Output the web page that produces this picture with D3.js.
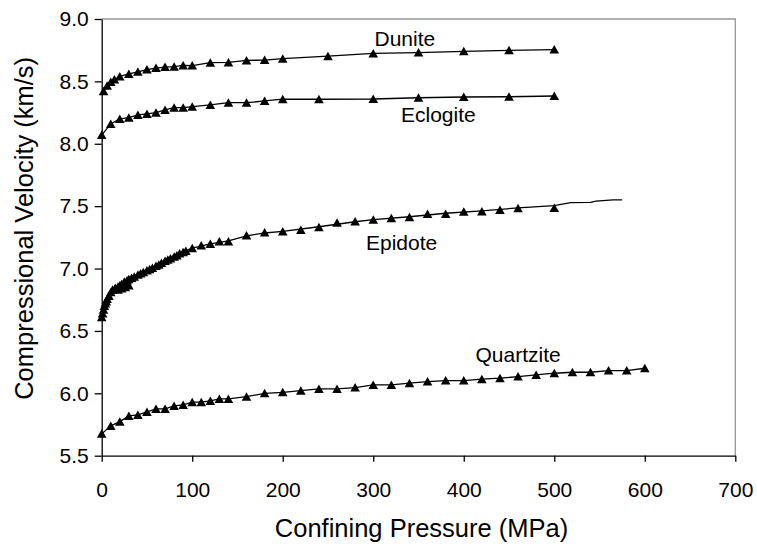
<!DOCTYPE html>
<html>
<head>
<meta charset="utf-8">
<script src="https://cdn.jsdelivr.net/npm/d3@7"></script>
<style>
  html, body { margin: 0; padding: 0; background: #fff; }
  svg { display: block; font-family: "Liberation Sans", Arial, sans-serif; }
</style>
</head>
<body>
<svg id="chart" width="757" height="544"></svg>
<script>
// Confining pressure (MPa) and compressional velocity (km/s) for each rock type.
const dunitePressure = [2, 6, 10, 14, 20, 30, 40, 50, 60, 70, 80, 90, 100, 120, 140, 160, 180, 200, 250, 300, 350, 400, 450, 500];
const duniteVelocity = [8.42, 8.465, 8.495, 8.515, 8.54, 8.56, 8.577, 8.595, 8.607, 8.615, 8.618, 8.628, 8.627, 8.65, 8.652, 8.668, 8.671, 8.682, 8.702, 8.724, 8.731, 8.741, 8.749, 8.755];

const eclogitePressure = [0, 10, 20, 30, 40, 50, 60, 70, 80, 90, 100, 120, 140, 160, 180, 200, 240, 300, 350, 400, 450, 500];
const eclogiteVelocity = [8.07, 8.159, 8.199, 8.209, 8.231, 8.239, 8.249, 8.271, 8.289, 8.289, 8.297, 8.311, 8.329, 8.329, 8.343, 8.357, 8.357, 8.359, 8.369, 8.375, 8.377, 8.383];

const epidotePressure = [0, 1, 2, 3, 4, 5, 6, 8, 10, 12, 15, 18, 20, 22, 25, 28, 30, 33, 36, 40, 43, 46, 50, 53, 56, 60, 63, 66, 70, 73, 76, 80, 83, 86, 90, 93,
  18, 22, 26, 30,
  100, 110, 120, 130, 140, 160, 180, 200, 220, 240, 260, 280, 300, 320, 340, 360, 380, 400, 420, 440, 460, 500];
const epidoteVelocity = [6.61, 6.64, 6.67, 6.70, 6.72, 6.735, 6.755, 6.78, 6.81, 6.83, 6.845, 6.855, 6.865, 6.875, 6.895, 6.905, 6.915, 6.925, 6.935, 6.95, 6.96, 6.97, 6.985, 6.995, 7.005, 7.02, 7.03, 7.045, 7.06, 7.07, 7.08, 7.095, 7.105, 7.12, 7.13, 7.14,
  6.83, 6.84, 6.85, 6.865,
  7.163, 7.184, 7.197, 7.216, 7.216, 7.264, 7.288, 7.296, 7.309, 7.331, 7.368, 7.378, 7.392, 7.403, 7.411, 7.438, 7.438, 7.456, 7.458, 7.470, 7.483, 7.485];
// Epidote trend line, which continues past the last measurement
const epidoteCurvePressure = [0, 2, 5, 10, 15, 20, 30, 40, 50, 60, 70, 80, 90, 100, 120, 140, 160, 180, 200, 240, 280, 300, 340, 380, 420, 460, 500, 518, 540, 546, 565, 575];
const epidoteCurveVelocity = [6.61, 6.68, 6.745, 6.805, 6.845, 6.87, 6.92, 6.955, 6.99, 7.025, 7.063, 7.098, 7.133, 7.163, 7.198, 7.222, 7.262, 7.285, 7.298, 7.335, 7.375, 7.392, 7.415, 7.443, 7.463, 7.486, 7.505, 7.528, 7.53, 7.54, 7.55, 7.55];

const quartzitePressure = [0, 10, 20, 30, 40, 50, 60, 70, 80, 90, 100, 110, 120, 130, 140, 160, 180, 200, 220, 240, 260, 280, 300, 320, 340, 360, 380, 400, 420, 440, 460, 480, 500, 520, 540, 560, 580, 600];
const quartziteVelocity = [5.675, 5.739, 5.773, 5.819, 5.827, 5.851, 5.875, 5.875, 5.899, 5.907, 5.929, 5.929, 5.939, 5.955, 5.955, 5.973, 6.0, 6.008, 6.021, 6.035, 6.035, 6.046, 6.067, 6.067, 6.081, 6.094, 6.102, 6.102, 6.113, 6.121, 6.134, 6.147, 6.161, 6.169, 6.169, 6.182, 6.182, 6.201];

const xTicks = [0, 100, 200, 300, 400, 500, 600, 700];
const yTicks = [5.5, 6.0, 6.5, 7.0, 7.5, 8.0, 8.5, 9.0];

const zip = (ps, vs) => ps.map((p, i) => ({ p, v: vs[i] }));

const rocks = [
  { name: "Dunite", points: zip(dunitePressure, duniteVelocity), label: { x: 374.5, y: 45.5 } },
  { name: "Eclogite", points: zip(eclogitePressure, eclogiteVelocity), label: { x: 401, y: 122 } },
  { name: "Epidote", points: zip(epidotePressure, epidoteVelocity),
    curve: zip(epidoteCurvePressure, epidoteCurveVelocity), label: { x: 366, y: 249.5 } },
  { name: "Quartzite", points: zip(quartzitePressure, quartziteVelocity), label: { x: 475.5, y: 361.5 } }
];

const svg = d3.select("#chart");
const plotLeft = 101.7, plotRight = 735.3, plotTop = 19, plotBottom = 455.7;

const x = d3.scaleLinear().domain([0, 700]).range([plotLeft, plotRight]);
const y = d3.scaleLinear().domain([5.5, 9.0]).range([plotBottom, plotTop]);

// plot frame: grey top and right edges
svg.append("path")
  .attr("d", `M${plotLeft},${plotTop}H${plotRight}V${plotBottom}`)
  .attr("fill", "none").attr("stroke", "#969696").attr("stroke-width", 1.3);

// axes
const xAxis = d3.axisBottom(x).tickValues(xTicks).tickFormat(d3.format("d")).tickSizeOuter(0).tickSizeInner(6).tickPadding(20);
const gx = svg.append("g").attr("transform", `translate(0,${plotBottom})`).call(xAxis);
gx.select(".domain").attr("stroke", "#000").attr("stroke-width", 1.3);
gx.selectAll(".tick line").attr("stroke", "#000").attr("stroke-width", 1.3);
gx.selectAll(".tick text").attr("font-size", 21).attr("font-family", "Liberation Sans, Arial, sans-serif").attr("fill", "#000");

const yAxis = d3.axisLeft(y).tickValues(yTicks).tickFormat(d3.format(".1f")).tickSizeOuter(0).tickSizeInner(7).tickPadding(6);
const gy = svg.append("g").attr("transform", `translate(${plotLeft},0)`).call(yAxis);
gy.select(".domain").attr("stroke", "#000").attr("stroke-width", 1.3);
gy.selectAll(".tick line").attr("stroke", "#000").attr("stroke-width", 1.3);
gy.selectAll(".tick text").attr("font-size", 21).attr("font-family", "Liberation Sans, Arial, sans-serif").attr("fill", "#000");

// axis titles
svg.append("text")
  .attr("x", (plotLeft + plotRight) / 2 + 3).attr("y", 537)
  .attr("text-anchor", "middle").attr("font-size", 25.5).attr("fill", "#000")
  .text("Confining Pressure (MPa)");

svg.append("text")
  .attr("transform", `translate(33,${(plotTop + plotBottom) / 2 - 9}) rotate(-90)`)
  .attr("text-anchor", "middle").attr("font-size", 25.5).attr("fill", "#000")
  .text("Compressional Velocity (km/s)");

// series lines and triangle markers
const line = d3.line().x(d => x(d.p)).y(d => y(d.v));
const tri = "M0,-4.5L4.8,4L-4.8,4Z";

rocks.forEach(r => {
  const g = svg.append("g").attr("class", "rock");
  const curvePts = r.curve || r.points.slice().sort((a, b) => a.p - b.p);
  g.append("path").datum(curvePts)
    .attr("d", line).attr("fill", "none").attr("stroke", "#000").attr("stroke-width", 1.3);
  g.selectAll("path.marker").data(r.points).join("path")
    .attr("class", "marker")
    .attr("d", tri)
    .attr("transform", d => `translate(${x(d.p)},${y(d.v)})`)
    .attr("fill", "#000");
  g.append("text")
    .attr("x", r.label.x).attr("y", r.label.y)
    .attr("font-size", 21).attr("fill", "#000")
    .text(r.name);
});
</script>
</body>
</html>
